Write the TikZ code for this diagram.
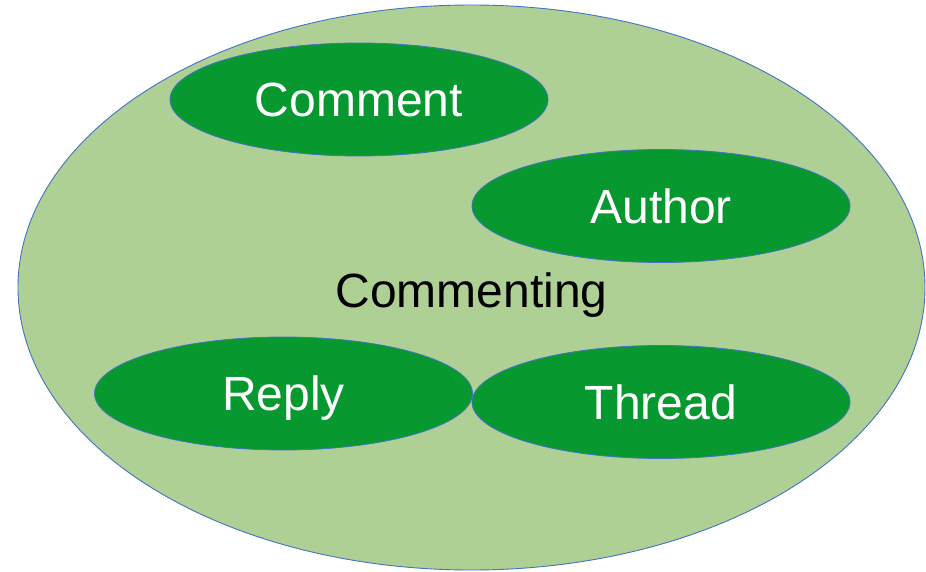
\documentclass[tikz,border=0pt]{standalone}
\usepackage{fontspec}
\setmainfont{Liberation Sans}
\usetikzlibrary{shapes.geometric}
\definecolor{outerfill}{HTML}{AFD095}
\definecolor{innerfill}{HTML}{079930}
\definecolor{edgeblue}{HTML}{4472C4}
\tikzset{
  outerblob/.style={ellipse, draw=edgeblue, line width=0.9pt, fill=outerfill, inner sep=0pt,
    minimum width=907pt, minimum height=565pt},
  bigtext/.style={font=\fontsize{48}{58}\selectfont, text height=34.4pt, text depth=0pt},
  innerblob/.style={ellipse, draw=edgeblue, line width=0.8pt, fill=innerfill, inner sep=0pt,
    minimum width=378pt, minimum height=113pt, text=white, bigtext},
  lbl/.style={inner sep=0pt, bigtext}
}
\begin{document}
\begin{tikzpicture}[x=1pt,y=-1pt]
\useasboundingbox (0,0) rectangle (926,572);
\node[outerblob] (outer) at (471.5,287.5) {};
\node[lbl] (commenting) at (471.5,290) {Commenting};
\node[innerblob] (comment) at (359,99.5) {Comment};
\node[innerblob] (author) at (661,206) {Author};
\node[innerblob] (reply) at (283.5,393.5) {Reply};
\node[innerblob] (thread) at (661,402) {Thread};
\end{tikzpicture}
\end{document}
